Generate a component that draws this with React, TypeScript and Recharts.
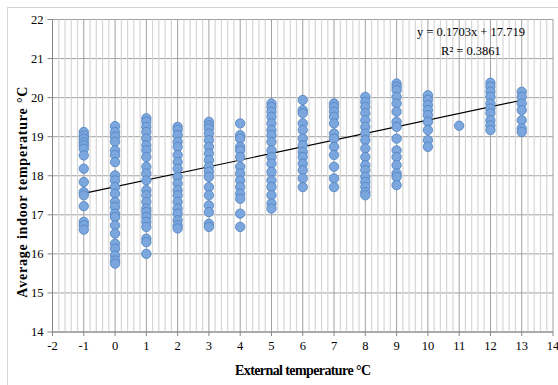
import React from 'react';
import { ScatterChart, Scatter, XAxis, YAxis, CartesianGrid, ReferenceLine } from 'recharts';

// External temperature columns and the average indoor temperatures read at each
const colM1 = [19.12, 19.03, 18.95, 18.86, 18.78, 18.69, 18.52, 18.18, 17.84, 17.58, 17.5, 17.22, 16.82, 16.73, 16.62];
const col0 = [19.27, 19.12, 19.0, 18.87, 18.65, 18.53, 18.35, 18.01, 17.88, 17.71, 17.54, 17.33, 17.2, 17.03, 16.94, 16.73, 16.52, 16.26, 16.13, 15.96, 15.83, 15.75];
const col1 = [19.47, 19.38, 19.25, 19.12, 18.95, 18.78, 18.65, 18.48, 18.23, 18.06, 17.88, 17.63, 17.5, 17.33, 17.16, 17.07, 16.94, 16.82, 16.69, 16.39, 16.3, 16.0];
const col2 = [19.25, 19.17, 19.04, 18.87, 18.74, 18.53, 18.35, 18.18, 17.97, 17.8, 17.63, 17.5, 17.33, 17.16, 17.03, 16.86, 16.73, 16.65];
const col3 = [19.38, 19.29, 19.21, 19.08, 18.91, 18.74, 18.57, 18.4, 18.23, 18.1, 17.97, 17.71, 17.5, 17.24, 17.07, 16.77, 16.69];
const col4 = [19.34, 19.04, 18.95, 18.74, 18.65, 18.48, 18.23, 18.06, 17.88, 17.71, 17.54, 17.41, 17.03, 16.69];
const col5 = [19.85, 19.76, 19.64, 19.51, 19.34, 19.17, 19.04, 18.87, 18.65, 18.48, 18.31, 18.1, 17.88, 17.71, 17.5, 17.29, 17.16];
const col6 = [19.94, 19.68, 19.6, 19.34, 19.17, 18.95, 18.78, 18.61, 18.48, 18.31, 18.14, 17.93, 17.71];
const col7 = [19.85, 19.76, 19.64, 19.51, 19.34, 19.08, 18.95, 18.74, 18.53, 18.23, 17.93, 17.71];
const col8 = [20.02, 19.89, 19.76, 19.6, 19.42, 19.25, 19.08, 18.91, 18.7, 18.48, 18.27, 18.14, 17.97, 17.84, 17.71, 17.58, 17.5];
const col9 = [20.36, 20.28, 20.19, 20.02, 19.85, 19.64, 19.38, 19.25, 18.95, 18.65, 18.48, 18.27, 18.06, 17.97, 17.76];
const col10 = [20.06, 19.94, 19.81, 19.68, 19.55, 19.38, 19.17, 18.91, 18.74];
const col11 = [19.28];
const col12 = [20.38, 20.28, 20.15, 20.02, 19.85, 19.72, 19.6, 19.42, 19.29, 19.17];
const col13 = [20.15, 20.02, 19.85, 19.68, 19.42, 19.21, 19.12];

const externalTemps = [-1, 0, 1, 2, 3, 4, 5, 6, 7, 8, 9, 10, 11, 12, 13];
const indoorColumns = [colM1, col0, col1, col2, col3, col4, col5, col6, col7, col8, col9, col10, col11, col12, col13];

const xTicks = [-2, -1, 0, 1, 2, 3, 4, 5, 6, 7, 8, 9, 10, 11, 12, 13, 14];
const yTicks = [14, 15, 16, 17, 18, 19, 20, 21, 22];
const minorStep = 0.2;

const slope = 0.1703;
const intercept = 17.719;
const trendRange = [-1, 13];
const equationText = 'y = 0.1703x + 17.719';
const r2Text = 'R² = 0.3861';

const points = externalTemps.flatMap((x, i) => indoorColumns[i].map((y) => ({ x, y })));
const xMin = xTicks[0];
const xMax = xTicks[xTicks.length - 1];
const minorTicks: number[] = [];
for (let i = 0; i <= Math.round((xMax - xMin) / minorStep); i++) {
  const v = +(xMin + i * minorStep).toFixed(2);
  if (Math.abs(v - Math.round(v)) > 1e-6) minorTicks.push(v);
}
const trendSegment = trendRange.map((x) => ({ x, y: slope * x + intercept }));

const FONT = '"Liberation Serif", serif';

const Dot = (props: any) => {
  const { cx, cy } = props;
  if (cx == null || cy == null) return <g />;
  return <circle cx={cx} cy={cy} r={4.7} fill="#7BA6DE" stroke="#4F81BD" strokeWidth={0.8} />;
};

const XTick = (props: any) => {
  const { x, y, payload } = props;
  return (
    <text x={x} y={y + 10} textAnchor="middle" style={{ fontFamily: FONT, fontSize: 12.5 }} fill="#000">
      {payload.value}
    </text>
  );
};

const YTick = (props: any) => {
  const { x, y, payload } = props;
  return (
    <text x={x} y={y + 4} textAnchor="end" style={{ fontFamily: FONT, fontSize: 12.5 }} fill="#000">
      {payload.value}
    </text>
  );
};

const YLabel = (props: any) => {
  const vb = props.viewBox || {};
  const cx = 22;
  const cy = vb.y + vb.height / 2 + 16;
  return (
    <text x={cx} y={cy} transform={`rotate(-90 ${cx} ${cy})`} textAnchor="middle" dominantBaseline="central"
      style={{ fontFamily: FONT, fontWeight: 'bold', fontSize: 14, letterSpacing: 0.8 }} fill="#000">
      Average indoor temperature °C
    </text>
  );
};

const XLabel = (props: any) => {
  const vb = props.viewBox || {};
  return (
    <text x={vb.x + vb.width / 2} y={375} textAnchor="middle"
      style={{ fontFamily: FONT, fontWeight: 'bold', fontSize: 14, letterSpacing: -0.6 }} fill="#000">
      External temperature °C
    </text>
  );
};

export default function App() {
  return (
    <div style={{ position: 'absolute', left: 0, top: 0, width: 558, height: 385, overflow: 'hidden', background: '#fff', fontFamily: FONT }}>
      <div style={{ position: 'absolute', left: 7, top: 7, width: 560, height: 400, border: '1px solid #d4d4d4' }} />
      <ScatterChart width={558} height={385} margin={{ top: 19.5, right: 5, bottom: 23, left: 7.5 }}
        style={{ position: 'absolute', left: 0, top: 0, fontFamily: FONT }}>
        {minorTicks.map((t) => (
          <ReferenceLine key={`m${t}`} x={t} stroke="#d6d6d6" strokeWidth={1.2} ifOverflow="extendDomain" />
        ))}
        <CartesianGrid horizontal vertical stroke="#a0a0a0" strokeWidth={1} />
        <XAxis type="number" dataKey="x" domain={[xMin, xMax]} ticks={xTicks} interval={0} height={30}
          tick={<XTick />} tickSize={4} tickMargin={4}
          stroke="#868686" label={<XLabel />} allowDataOverflow />
        <YAxis type="number" dataKey="y" domain={[14, 22]} ticks={yTicks} interval={0} width={45}
          tick={<YTick />} tickSize={5} tickMargin={4}
          stroke="#868686" label={<YLabel />} allowDataOverflow />
        <Scatter data={points} shape={<Dot />} isAnimationActive={false} />
        <ReferenceLine segment={trendSegment} stroke="#000" strokeWidth={1.2} ifOverflow="visible" />
      </ScatterChart>
      <div style={{ position: 'absolute', left: 391, top: 23, width: 160, textAlign: 'center', fontFamily: FONT, fontSize: 12.5, lineHeight: '19px', color: '#000' }}>
        <div>{equationText}</div>
        <div>{r2Text}</div>
      </div>
    </div>
  );
}
